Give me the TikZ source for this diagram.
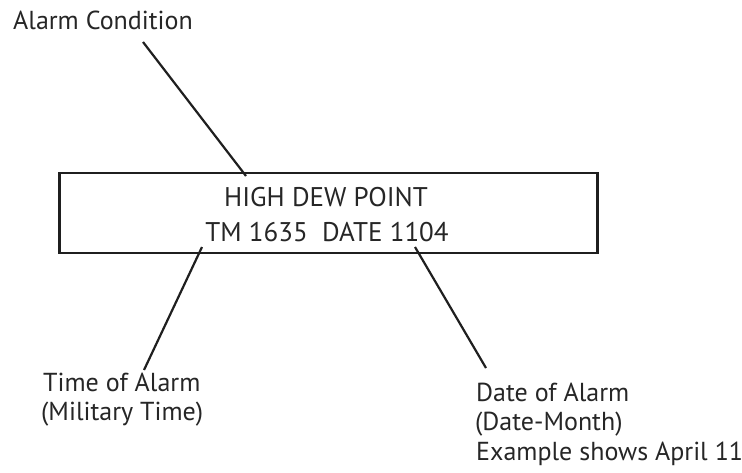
\documentclass[tikz,border=0pt]{standalone}
\usepackage{fontspec}
\setmainfont{PT Sans}
\begin{document}
\begin{tikzpicture}[x=1pt,y=-1pt,
  lbl/.style={anchor=base west, inner sep=0pt, font=\fontsize{26}{29.5}\selectfont, text=black!85},
  boxtxt/.style={anchor=base, inner sep=0pt, font=\fontsize{27}{32}\selectfont, text=black!85},
  leader/.style={line width=2.2pt, draw=black!88},
  display/.style={draw=black!88, line width=2.6pt, minimum width=538pt, minimum height=80pt, inner sep=0pt, anchor=north west}]
\useasboundingbox (0,0) rectangle (742,472);
\node[display] (box) at (58,171.5) {};
\node[boxtxt] (l1) at (326,206) {HIGH DEW POINT};
\node[boxtxt] (l2) at (327,241) {TM 1635\ \ DATE 1104};
\node[lbl] (cond) at (13,29) {Alarm Condition};
\node[lbl] (timeA) at (43,391) {Time of Alarm};
\node[lbl] (timeB) at (41,420.5) {(Military Time)};
\node[lbl] (dateA) at (476,401) {Date of Alarm};
\node[lbl] (dateB) at (475,430.5) {(Date-Month)};
\node[lbl] (dateC) at (476,460) {Example shows April 11};
\coordinate (c1s) at (143,42);
\coordinate (c1e) at (246,176);
\coordinate (c2s) at (202,247);
\coordinate (c2e) at (144,370);
\coordinate (c3s) at (415,247);
\coordinate (c3e) at (486,368);
\draw[leader] (c1s) -- (c1e);
\draw[leader] (c2s) -- (c2e);
\draw[leader] (c3s) -- (c3e);
\end{tikzpicture}
\end{document}
